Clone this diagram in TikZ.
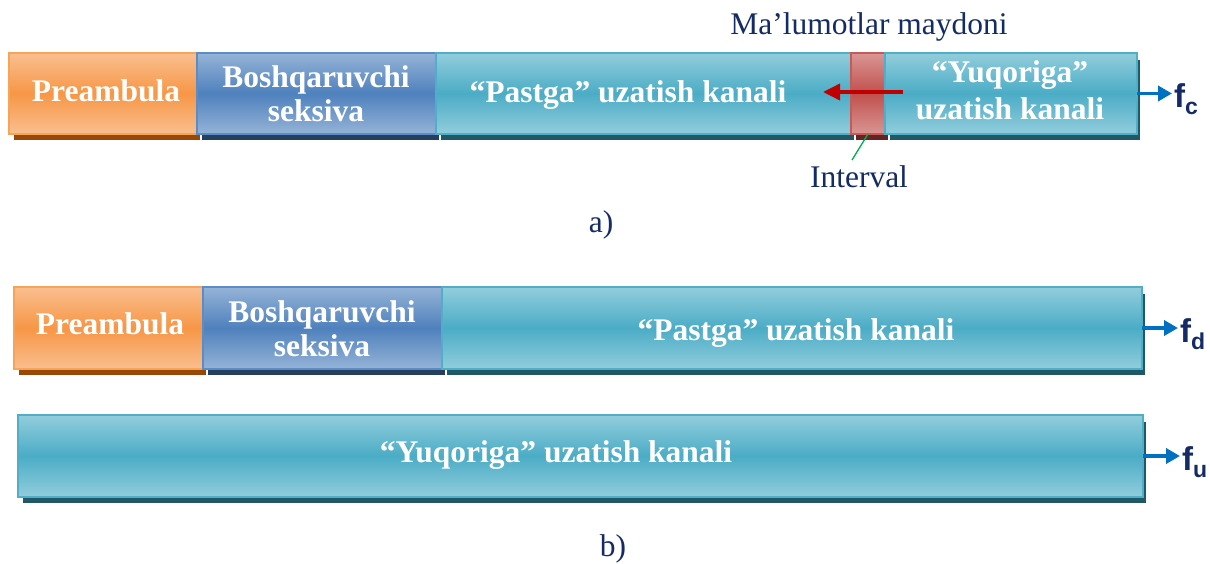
\documentclass[tikz,border=0pt]{standalone}
\usepackage{fontspec}
\setmainfont{Liberation Serif}
\setsansfont{Liberation Sans}
\usetikzlibrary{shadows,arrows.meta}
\definecolor{oL}{HTML}{F9BF8F}\definecolor{oM}{HTML}{F79646}\definecolor{oB}{HTML}{F8A458}\definecolor{oS}{HTML}{984807}
\definecolor{bL}{HTML}{95B3D7}\definecolor{bM}{HTML}{4F81BD}\definecolor{bB}{HTML}{5B8CC6}\definecolor{bS}{HTML}{243F60}
\definecolor{tL}{HTML}{92CDDC}\definecolor{tM}{HTML}{4BACC6}\definecolor{tB}{HTML}{4FAEC8}\definecolor{tS}{HTML}{215868}
\definecolor{rL}{HTML}{D99694}\definecolor{rM}{HTML}{C0504D}\definecolor{rB}{HTML}{C55A57}\definecolor{rS}{HTML}{632523}
\definecolor{navytxt}{HTML}{142B66}
\definecolor{farrowc}{HTML}{0070C0}
\definecolor{redarr}{HTML}{C00000}
\definecolor{greenl}{HTML}{00B050}
\tikzset{
  seg/.style n args={4}{shade, top color=#1, bottom color=#1, middle color=#2, draw=#3,
    line width=2.5pt, inner sep=0pt, outer sep=0pt, anchor=north west,
    general shadow={fill=#4, draw=white, line width=1.5pt, shadow xshift=4pt, shadow yshift=-6.5pt}},
  oseg/.style={seg={oL}{oM}{oB}{oS}},
  bseg/.style={seg={bL}{bM}{bB}{bS}},
  tseg/.style={seg={tL}{tM}{tB}{tS}},
  rseg/.style={seg={rL}{rM}{rB}{rS}},
  segtext/.style={text=white, font=\fontsize{31.5}{35}\selectfont\bfseries, align=center, inner sep=0pt},
  plaintext/.style={text=navytxt, font=\fontsize{31.5}{36}\selectfont, inner sep=0pt},
  flabel/.style={text=navytxt, font=\sffamily\bfseries\fontsize{33}{34}\selectfont, inner sep=2pt},
  farrow/.style={draw=farrowc, line width=3.6pt, -{Triangle[length=14pt,width=15pt]}},
}
\newcommand{\fsub}[1]{f\raisebox{-7pt}{\fontsize{23}{23}\selectfont #1}}
\begin{document}
\begin{tikzpicture}[x=1pt,y=1pt]
\useasboundingbox (0,0) rectangle (1210,-564);
% ---- a) ----
\node[oseg, minimum width=188pt, minimum height=81pt] (pa) at (9,-53) {};
\node[bseg, minimum width=239pt, minimum height=81pt] (ba) at (197,-53) {};
\node[tseg, minimum width=415pt, minimum height=81pt] (pga) at (436,-53) {};
\node[rseg, minimum width=34pt, minimum height=81pt] (ia) at (851,-53) {};
\node[tseg, minimum width=252pt, minimum height=81pt] (ya) at (885,-53) {};
\node[segtext, anchor=base] (tpa) at (106,-102) {Preambula};
\node[segtext, anchor=base] (tba1) at (316,-88) {Boshqaruvchi};
\node[segtext, anchor=base] (tba2) at (316,-122) {seksiva};
\node[segtext, anchor=base] (tpga) at (628,-103) {“Pastga” uzatish kanali};
\node[segtext, anchor=base] (tya1) at (1010,-83) {“Yuqoriga”};
\node[segtext, anchor=base] (tya2) at (1010,-120) {uzatish kanali};
\coordinate (rs) at (903,-92);
\coordinate (re) at (823,-92);
\draw[draw=redarr, line width=3.6pt, -{Triangle[length=17pt,width=16pt]}] (rs) -- (re);
\node[plaintext, anchor=base] (md) at (869,-35) {Ma’lumotlar maydoni};
\node[plaintext, anchor=base] (int) at (859,-188) {Interval};
\coordinate (gend) at (852,-160);
\draw[greenl, line width=1.3pt] (ia.south) -- (gend);
\node[flabel, anchor=base west] (fc) at (1172,-108) {\fsub{c}};
\draw[farrow] (ya.east) -- (ya.east -| fc.west);
\node[plaintext, anchor=base] (la) at (601,-233) {a)};
% ---- b) ----
\node[oseg, minimum width=189pt, minimum height=82pt] (pb) at (14,-287) {};
\node[bseg, minimum width=239pt, minimum height=82pt] (bb) at (203,-287) {};
\node[tseg, minimum width=700pt, minimum height=82pt] (pgb) at (442,-287) {};
\node[tseg, minimum width=1125pt, minimum height=82pt] (yb) at (18,-415) {};
\node[segtext, anchor=base] (tpb) at (110,-334) {Preambula};
\node[segtext, anchor=base] (tbb1) at (322,-322) {Boshqaruvchi};
\node[segtext, anchor=base] (tbb2) at (322,-356) {seksiva};
\node[segtext, anchor=base] (tpgb) at (796,-340) {“Pastga” uzatish kanali};
\node[segtext, anchor=base] (tyb) at (556,-462) {“Yuqoriga” uzatish kanali};
\node[flabel, anchor=base west] (fd) at (1178,-342) {\fsub{d}};
\node[flabel, anchor=base west] (fu) at (1180,-470) {\fsub{u}};
\draw[farrow] (pgb.east) -- (pgb.east -| fd.west);
\draw[farrow] (yb.east) -- (yb.east -| fu.west);
\node[plaintext, anchor=base] (lb) at (613,-556) {b)};
\end{tikzpicture}
\end{document}
